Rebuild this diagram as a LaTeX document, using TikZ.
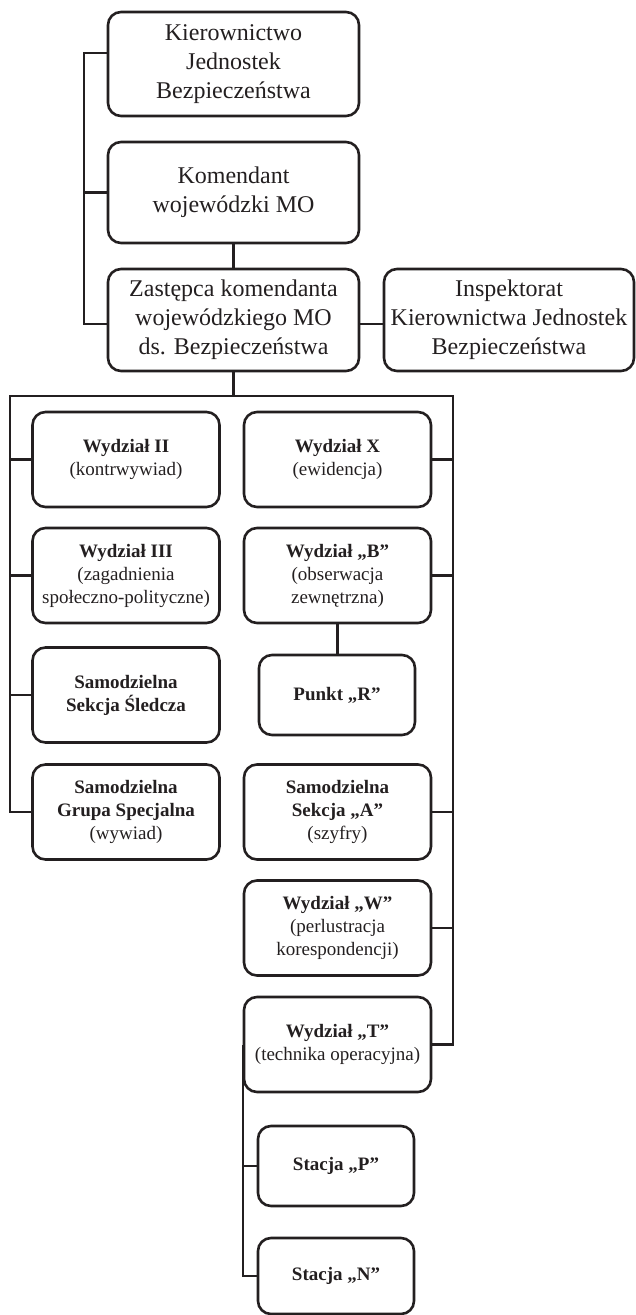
\documentclass[tikz,border=0pt]{standalone}
\usepackage{fontspec}
\setmainfont{Liberation Serif}
\definecolor{ink}{HTML}{231F20}
\begin{document}
\begin{tikzpicture}[x=1pt,y=-1pt,
  box/.style={draw=ink, line width=2.6pt, rounded corners=13pt, align=center, text=ink, inner sep=0pt},
  big/.style={box, font=\fontsize{24}{29}\selectfont, minimum width=251pt},
  small/.style={box, font=\fontsize{19}{23}\selectfont, minimum width=187pt, minimum height=95pt},
  tiny/.style={box, font=\fontsize{19}{23}\selectfont, minimum width=156pt, minimum height=80pt},
  conn/.style={draw=ink, line width=2.4pt}]
\useasboundingbox (0,0) rectangle (636,1315);

% top level
\node[big, minimum height=104pt] (kjb) at (233.5,64) {Kierownictwo\\Jednostek\\Bezpieczeństwa};
\node[big, minimum height=101pt] (kom) at (233.5,192.5) {Komendant\\wojewódzki MO};
\node[big, minimum height=102pt] (zas) at (233.5,320) {Zastępca komendanta\\wojewódzkiego MO\\ds. Bezpieczeństwa};
\node[big, minimum width=250pt, minimum height=102pt] (insp) at (509,320) {Inspektorat\\Kierownictwa Jednostek\\Bezpieczeństwa};

% left column
\node[small] (w2) at (126,459.5) {\textbf{Wydział II}\\(kontrwywiad)};
\node[small] (w3) at (126,575.5) {\textbf{Wydział III}\\(zagadnienia\\społeczno-polityczne)};
\node[small] (sss) at (126,695) {\textbf{Samodzielna}\\\textbf{Sekcja Śledcza}};
\node[small] (sgs) at (126,812) {\textbf{Samodzielna}\\\textbf{Grupa Specjalna}\\(wywiad)};

% right column
\node[small] (wx) at (337.5,459.5) {\textbf{Wydział X}\\(ewidencja)};
\node[small] (wb) at (337.5,575.5) {\textbf{Wydział „B”}\\(obserwacja\\zewnętrzna)};
\node[tiny] (pr) at (337,695) {\textbf{Punkt „R”}};
\node[small] (ssa) at (337.5,812) {\textbf{Samodzielna}\\\textbf{Sekcja „A”}\\(szyfry)};
\node[small] (ww) at (337.5,928) {\textbf{Wydział „W”}\\(perlustracja\\korespondencji)};
\node[small] (wt) at (337.5,1044.5) {\textbf{Wydział „T”}\\(technika operacyjna)};
\node[tiny] (sp) at (336,1166) {\textbf{Stacja „P”}};
\node[tiny, minimum height=76pt] (sn) at (336,1276) {\textbf{Stacja „N”}};

% connectors top
\draw[conn] ([yshift=11pt]kjb.west) -- ++(-23,0) |- ([yshift=-4pt]zas.west);
\draw[conn] (kom.west) -- ++(-23,0);
\draw[conn] (kom.south) -- (zas.north);
\draw[conn] ([yshift=-4pt]zas.east) -- ([yshift=-4pt]insp.west);

% distribution bus
\draw[conn] (zas.south) -- ++(0,25) coordinate (hub);
\coordinate (LL) at (10,396);
\coordinate (RR) at (453,396);
\draw[conn, line cap=rect] (LL) -- (RR);
\draw[conn] (LL) |- (sgs.west);
\draw[conn] (w2.west) -- (w2.west -| LL);
\draw[conn] (w3.west) -- (w3.west -| LL);
\draw[conn] (sss.west) -- (sss.west -| LL);
\draw[conn] (RR) |- (wt.east);
\draw[conn] (wx.east) -- (wx.east -| RR);
\draw[conn] (wb.east) -- (wb.east -| RR);
\draw[conn] (ssa.east) -- (ssa.east -| RR);
\draw[conn] (ww.east) -- (ww.east -| RR);
\draw[conn] (wb.south) -- (wb.south |- pr.north);
\draw[conn] (wt.west) |- (sn.west);
\draw[conn] (sp.west) -- (sp.west -| wt.west);
\end{tikzpicture}
\end{document}
